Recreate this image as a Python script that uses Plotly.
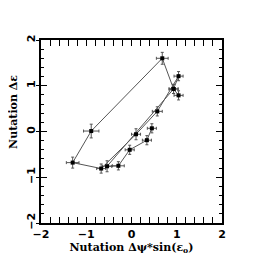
import plotly.graph_objects as go

# path order through the measured points (data units)
x_vals = [0.45, 0.34, -0.04, -0.29, -0.54, 0.93, 0.68, -0.89, -1.30, -0.67, 0.10, 0.57, 1.04, 0.93, 1.04]
y_vals = [0.07, -0.19, -0.40, -0.75, -0.76, 0.93, 1.60, 0.01, -0.68, -0.81, -0.06, 0.44, 1.21, 0.93, 0.79]
x_err = [0.10, 0.10, 0.10, 0.13, 0.10, 0.10, 0.13, 0.17, 0.14, 0.10, 0.10, 0.11, 0.10, 0.10, 0.10]
y_err = [0.10, 0.10, 0.10, 0.09, 0.12, 0.10, 0.13, 0.15, 0.12, 0.10, 0.12, 0.10, 0.10, 0.10, 0.10]

x_ticks = [-2, -1, 0, 1, 2]
y_ticks = [-2, -1, 0, 1, 2]
tick_text = ["−2", "−1", "0", "1", "2"]

fig = go.Figure()
fig.add_trace(go.Scatter(
    x=x_vals, y=y_vals, mode="lines+markers",
    line=dict(color="#555555", width=1),
    marker=dict(color="black", size=4, symbol="square"),
    error_x=dict(type="data", array=x_err, color="#555555", thickness=1, width=1.5),
    error_y=dict(type="data", array=y_err, color="#555555", thickness=1, width=1.5),
    showlegend=False,
))
# invisible trace to hold the outer tick axis
fig.add_trace(go.Scatter(x=[None], y=[None], yaxis="y2", showlegend=False, hoverinfo="skip"))

axis_common = dict(
    showgrid=False, zeroline=False, showline=True, linecolor="black", linewidth=1.5,
    mirror="allticks", ticks="inside", ticklen=6, tickwidth=1.2, tickcolor="black",
    minor=dict(ticks="inside", ticklen=3, tickcolor="black", dtick=0.2, tickwidth=1),
    tickfont=dict(family="DejaVu Sans", size=11, color="black", weight="bold"),
)

title_font = dict(family="DejaVu Serif", size=11, color="black", weight="bold")

fig.update_xaxes(range=[-2, 2], tickvals=x_ticks, ticktext=tick_text,
                 title=dict(text="Nutation Δψ*sin(ε<sub>o</sub>)", standoff=1, font=title_font),
                 **axis_common)
fig.update_yaxes(range=[-2, 2], tickvals=y_ticks, ticktext=tick_text, tickangle=-90,
                 **axis_common)

fig.update_layout(
    width=262, height=262,
    margin=dict(l=33, r=48, t=32, b=47),
    paper_bgcolor="white", plot_bgcolor="white",
    yaxis2=dict(overlaying="y", side="left", range=[-2, 2], tickvals=y_ticks,
                ticks="outside", ticklen=4, tickwidth=1.2, tickcolor="black",
                showticklabels=False, showline=False, showgrid=False, zeroline=False),
    annotations=[dict(text="Nutation Δε", textangle=-90, xref="paper", yref="paper",
                      x=0, y=0.607, xshift=-27, xanchor="center", yanchor="middle",
                      showarrow=False, font=title_font)],
)

fig.write_html("out.html")
